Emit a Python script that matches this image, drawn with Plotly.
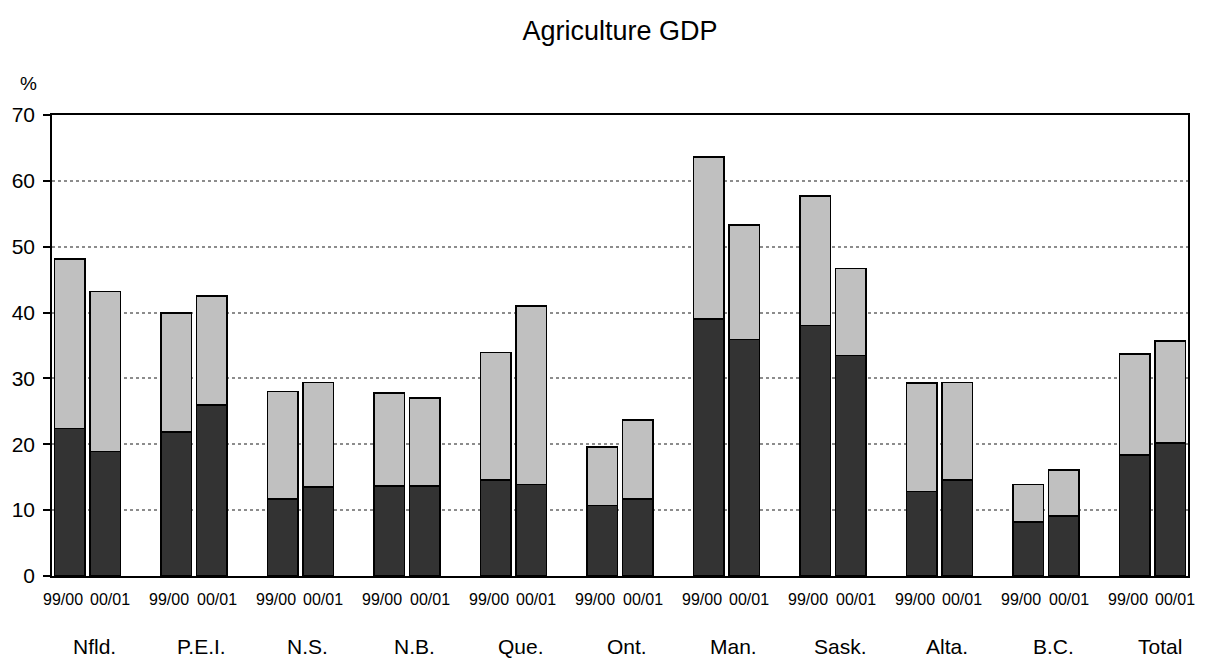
import plotly.graph_objects as go

# Provinces and fiscal years
provinces = ["Nfld.", "P.E.I.", "N.S.", "N.B.", "Que.", "Ont.", "Man.", "Sask.", "Alta.", "B.C.", "Total"]
years = ["99/00", "00/01"]

# Lower (dark) segment, %
lower_9900 = [22.4, 21.9, 11.7, 13.7, 14.6, 10.7, 39.0, 38.0, 12.8, 8.2, 18.4]
lower_0001 = [18.9, 26.0, 13.5, 13.7, 13.9, 11.7, 35.9, 33.5, 14.6, 9.1, 20.2]
# Bar totals (top of light segment), %
total_9900 = [48.1, 39.9, 28.0, 27.8, 33.9, 19.6, 63.6, 57.7, 29.3, 13.9, 33.7]
total_0001 = [43.2, 42.5, 29.4, 27.0, 41.0, 23.7, 53.3, 46.7, 29.4, 16.1, 35.7]

y_ticks = [0, 10, 20, 30, 40, 50, 60, 70]

FONT = "Liberation Sans, Arial, sans-serif"
DARK = "#333333"
LIGHT = "#c0c0c0"

# Each province occupies three slots: two bars and a spacer
x_pos, lower_vals, upper_vals, year_lbl = [], [], [], []
for g in range(len(provinces)):
    for j, (lo, tot) in enumerate([(lower_9900[g], total_9900[g]), (lower_0001[g], total_0001[g])]):
        x_pos.append(3 * g + j)
        lower_vals.append(lo)
        upper_vals.append(round(tot - lo, 2))
        year_lbl.append(j)

fig = go.Figure()
fig.add_trace(go.Bar(
    x=x_pos, y=lower_vals, width=0.87,
    marker=dict(color=DARK, line=dict(color="black", width=1.5)),
    showlegend=False,
))
fig.add_trace(go.Bar(
    x=x_pos, y=upper_vals, width=0.87,
    marker=dict(color=LIGHT, line=dict(color="black", width=1.5)),
    showlegend=False,
))

# Year labels under each bar, nudged apart
for xp, j in zip(x_pos, year_lbl):
    fig.add_annotation(
        x=xp, xref="x", y=0, yref="paper", yshift=-23.5, xshift=(-7 if j == 0 else 5),
        text=years[j], showarrow=False, yanchor="middle",
        font=dict(family=FONT, size=16, color="black"),
    )

# Province names under each pair
for g, name in enumerate(provinces):
    fig.add_annotation(
        x=3 * g + 0.5, xref="x", y=0, yref="paper", yshift=-70.5, xshift=7,
        text=name, showarrow=False, yanchor="middle",
        font=dict(family=FONT, size=21, color="black"),
    )

# Unit label above the y axis
fig.add_annotation(
    x=26.5, xref="paper", y=1, yref="paper", xshift=0,
    text="%", showarrow=False, xanchor="center", yanchor="middle",
    font=dict(family=FONT, size=19, color="black"),
)

fig.update_layout(
    barmode="stack",
    width=1213, height=663,
    margin=dict(l=50, r=25, t=114.5, b=86.5),
    paper_bgcolor="white", plot_bgcolor="white",
    title=dict(
        text="Agriculture GDP", x=620 / 1213, xanchor="center", y=1 - 31 / 663, yanchor="middle",
        font=dict(family=FONT, size=27, color="black"),
    ),
    xaxis=dict(
        range=[-0.5, 31.5],
        showticklabels=False, ticks="",
        showgrid=False, zeroline=False,
        showline=True, linecolor="black", linewidth=1.5, mirror=True,
    ),
    yaxis=dict(
        range=[0, 70],
        tickmode="array", tickvals=y_ticks,
        ticks="outside", ticklen=7, tickcolor="black", tickwidth=1.5,
        ticklabelstandoff=4,
        tickfont=dict(family=FONT, size=21, color="black"),
        showgrid=True, gridcolor="#8c8c8c", gridwidth=1.5, griddash="dot",
        zeroline=False,
        showline=True, linecolor="black", linewidth=1.5, mirror=True,
    ),
)

# Place the unit label in pixel terms relative to the paper
fig.layout.annotations[-1].update(x=0, xref="paper", xshift=26.5 - 50, y=1, yshift=114.5 - 83)

fig.write_html("out.html")
